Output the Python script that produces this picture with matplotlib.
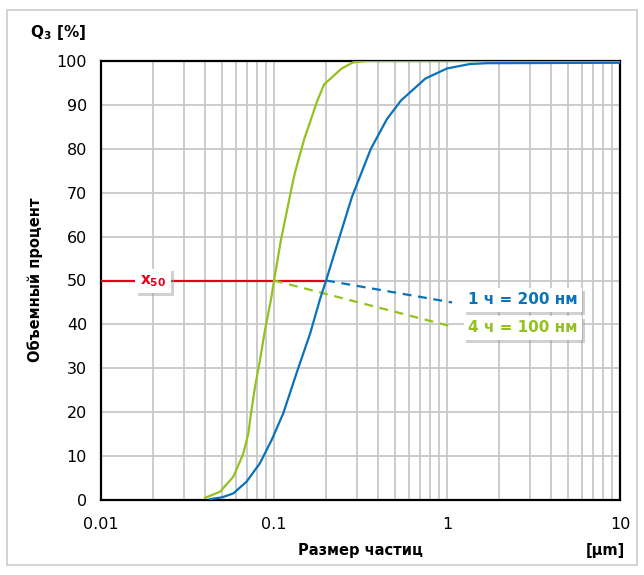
import matplotlib
matplotlib.use("Agg")
import matplotlib.pyplot as plt
import matplotlib.patheffects as pe
from matplotlib.patches import Rectangle

# Data
green_x = [0.040, 0.0488, 0.0582, 0.0665, 0.0711, 0.0736, 0.0777, 0.083, 0.0887, 0.096,
           0.100, 0.110, 0.1255, 0.132, 0.141, 0.150, 0.162, 0.177, 0.195, 0.211,
           0.246, 0.287, 0.343, 1.0, 10.0]
green_y = [0.5, 1.9, 5.3, 10.6, 15.2, 19.7, 25.8, 31.9, 38.7, 45.6,
           50.0, 59.5, 70.5, 74.5, 78.6, 82.4, 86.2, 90.7, 94.7, 95.9,
           98.3, 99.7, 100.0, 100.0, 100.0]

blue_x = [0.0427, 0.050, 0.0582, 0.0695, 0.083, 0.097, 0.113, 0.135, 0.162, 0.184, 0.200,
          0.231, 0.282, 0.363, 0.450, 0.542, 0.750, 1.0, 1.35, 1.7, 10.0]
blue_y = [0.2, 0.6, 1.5, 4.2, 8.4, 13.7, 19.7, 28.9, 38.0, 45.6, 50.0,
          58.0, 69.0, 80.0, 86.8, 91.0, 96.0, 98.3, 99.3, 99.5, 99.6]

x50_red_x = [0.01, 0.2]
x50_red_y = [50, 50]
blue_dash_x = [0.2, 1.07]
blue_dash_y = [50, 45.0]
green_dash_x = [0.1, 1.07]
green_dash_y = [50, 39.5]

xticks = [0.01, 0.1, 1, 10]
xtick_labels = ["0.01", "0.1", "1", "10"]
yticks = list(range(0, 101, 10))

GREEN = "#94C11F"
BLUE = "#0A72BA"
RED = "#E2001A"

fig = plt.figure(figsize=(6.44, 5.75), dpi=100)
fig.patches.append(Rectangle((7/644, 1-565/575), 630/644, 555/575, transform=fig.transFigure,
                             fill=False, edgecolor="#CCCCCC", linewidth=1.2))
ax = fig.add_axes([101/644, 1-500/575, 519/644, 439/575])
ax.set_xscale("log")
ax.set_xlim(0.01, 10)
ax.set_ylim(0, 100)

ax.grid(True, which="both", axis="x", color="#C8C8C8", linewidth=1.3)
ax.grid(True, which="major", axis="y", color="#C8C8C8", linewidth=1.3)
ax.set_axisbelow(True)

ax.plot(x50_red_x, x50_red_y, color=RED, lw=1.6, zorder=3)
ax.plot(blue_dash_x, blue_dash_y, color=BLUE, lw=1.6, ls=(0, (4, 3)), zorder=3)
ax.plot(green_dash_x, green_dash_y, color=GREEN, lw=1.6, ls=(0, (4, 3)), zorder=3)
ax.plot(green_x, green_y, color=GREEN, lw=1.6, zorder=4)
ax.plot(blue_x, blue_y, color=BLUE, lw=1.6, zorder=4)

ax.set_xticks(xticks)
ax.set_xticklabels(xtick_labels)
ax.set_yticks(yticks)
ax.tick_params(which="both", length=0, labelsize=11.5, pad=10)
ax.tick_params(axis="x", pad=12)
ax.xaxis.set_minor_formatter(plt.NullFormatter())
for s in ax.spines.values():
    s.set_color("black")
    s.set_linewidth(1.6)

shadow = [pe.withSimplePatchShadow(offset=(2, -2), shadow_rgbFace="#999999", alpha=0.45)]

def label(x, y, txt, color, size=11):
    t = ax.text(x, y, txt, color=color, fontsize=size, fontweight="bold",
                ha="center", va="center", zorder=6,
                bbox=dict(boxstyle="square,pad=0.3", facecolor="white", edgecolor="none"))
    t.get_bbox_patch().set_path_effects(shadow)
    return t

def px2x(px):
    return 10 ** (-2 + (px - 101) / 173)

def py2y(py):
    return (500 - py) / 4.39

label(px2x(523), py2y(300), "1 ч = 200 нм", BLUE)
label(px2x(523), py2y(328), "4 ч = 100 нм", GREEN)
label(px2x(153), py2y(281), r"$\mathbf{x}_{\mathbf{50}}$", RED, size=11)

fig.text(30/644, 1-33/575, r"$\mathbf{Q}_{\mathbf{3}}$ [%]", fontsize=11, fontweight="bold",
         ha="left", va="center")
fig.text(360/644, 1-550/575, "Размер частиц", fontsize=10.5, fontweight="bold",
         ha="center", va="center")
fig.text(605/644, 1-550/575, "[μm]", fontsize=10.5, fontweight="bold",
         ha="center", va="center")
fig.text(35/644, 1-280/575, "Объемный процент", fontsize=10.5, fontweight="bold",
         ha="center", va="center", rotation=90)

fig.savefig("out.png", dpi=100)
